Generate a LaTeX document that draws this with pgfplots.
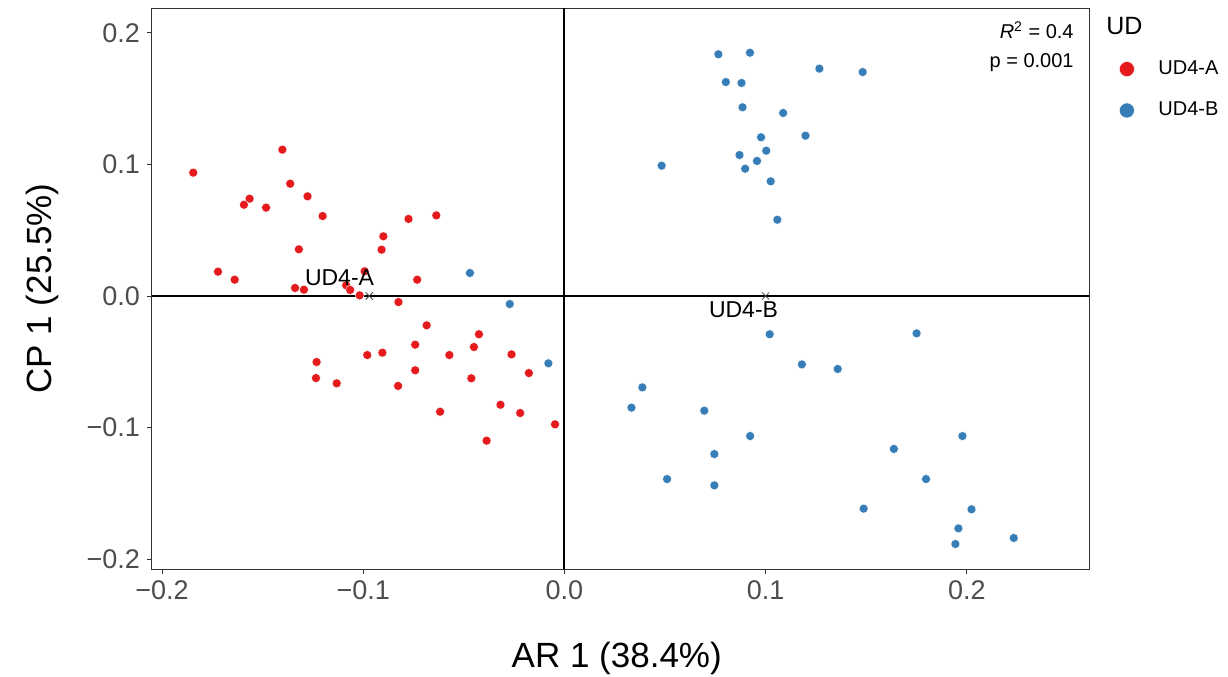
\documentclass[border=0pt]{standalone}
\usepackage{fontspec}
\setmainfont{Liberation Sans}
\usepackage{pgfplots}
\pgfplotsset{compat=1.18}
\definecolor{udred}{HTML}{E41A1C}
\definecolor{udblue}{HTML}{377EB8}
\definecolor{tickgray}{HTML}{4D4D4D}
\definecolor{framegray}{HTML}{333333}

\begin{document}
\begin{tikzpicture}
\path[use as bounding box] (-76pt,-53.5pt) rectangle (538pt,284.5pt);
\begin{axis}[
    at={(0,0)}, anchor=south west,
    scale only axis,
    width=468.5pt, height=280.5pt,
    xmin=-0.205, xmax=0.2607,
    ymin=-0.2076, ymax=0.219,
    clip mode=individual,
    axis line style={framegray, line width=0.5pt},
    tick pos=left,
    tick align=outside,
    major tick length=2.5pt,
    tick style={framegray, line width=0.5pt},
    xtick={-0.2,-0.1,0,0.1,0.2},
    xticklabels={−0.2,−0.1,0.0,0.1,0.2},
    ytick={-0.2,-0.1,0,0.1,0.2},
    yticklabels={−0.2,−0.1,0.0,0.1,0.2},
    ticklabel style={font=\fontsize{13.5}{15}\selectfont, text=tickgray},
    xlabel={AR 1 (38.4\%)},
    ylabel={CP 1 (25.5\%)},
    label style={font=\fontsize{17.5}{20}\selectfont},
    xlabel style={at={(axis description cs:0.496,-0.159)}, anchor=center},
    ylabel style={at={(axis description cs:-0.117,0.5)}, anchor=center},
    legend style={draw=none, fill=none, at={(axis description cs:1.0256,0.921)}, anchor=north west,
        font=\fontsize{10}{12}\selectfont, row sep=8.3pt, column sep=10pt},
    legend cell align=left,
    legend image post style={mark size=3.75pt},
]
% zero lines
\draw[black, line width=1pt] (axis cs:0,-0.2076) -- (axis cs:0,0.219);
\draw[black, line width=1pt] (axis cs:-0.205,0) -- (axis cs:0.2607,0);

% UD4-A
\addplot[only marks, mark=*, mark size=2.25pt, color=udred, mark options={draw=white, line width=0.2pt, fill=udred}] coordinates {
(-0.1845, 0.0938) (-0.1402, 0.1113) (-0.1363, 0.0854) (-0.1565, 0.0740)
(-0.1593, 0.0694) (-0.1483, 0.0672) (-0.1277, 0.0758) (-0.1202, 0.0608)
(-0.0775, 0.0586) (-0.0637, 0.0613) (-0.0900, 0.0454) (-0.0909, 0.0352)
(-0.1320, 0.0355) (-0.1722, 0.0185) (-0.1639, 0.0124) (-0.1339, 0.0061)
(-0.1295, 0.0048) (-0.0993, 0.0188) (-0.1085, 0.0081) (-0.1065, 0.0046)
(-0.1018, 0.0005) (-0.0732, 0.0124) (-0.0825, -0.0046) (-0.0685, -0.0223)
(-0.0425, -0.0291) (-0.0742, -0.0370) (-0.0450, -0.0388) (-0.1232, -0.0502)
(-0.0980, -0.0449) (-0.0905, -0.0431) (-0.0572, -0.0449) (-0.0263, -0.0444)
(-0.0742, -0.0565) (-0.0177, -0.0586) (-0.1235, -0.0624) (-0.1132, -0.0664)
(-0.0827, -0.0684) (-0.0463, -0.0626) (-0.0618, -0.0880) (-0.0318, -0.0827)
(-0.0220, -0.0890) (-0.0047, -0.0976) (-0.0387, -0.1100)
};
\addlegendentry{UD4-A}

% UD4-B
\addplot[only marks, mark=*, mark size=2.25pt, color=udblue, mark options={draw=white, line width=0.2pt, fill=udblue}] coordinates {
(0.0765, 0.1838) (0.0922, 0.1850) (0.1267, 0.1729) (0.1482, 0.1703)
(0.0802, 0.1627) (0.0880, 0.1620) (0.0885, 0.1435) (0.1087, 0.1392)
(0.0977, 0.1207) (0.1198, 0.1219) (0.1003, 0.1105) (0.0870, 0.1072)
(0.0957, 0.1027) (0.0483, 0.0991) (0.0898, 0.0968) (0.1025, 0.0872)
(0.1058, 0.0580)
(0.1020, -0.0291) (0.1180, -0.0520) (0.1358, -0.0555) (0.0387, -0.0695)
(0.0333, -0.0849) (0.0695, -0.0872) (0.0923, -0.1065) (0.0745, -0.1202)
(0.0510, -0.1392) (0.0745, -0.1440) (0.1637, -0.1163) (0.1487, -0.1617)
(0.1750, -0.0284) (0.1978, -0.1065) (0.1797, -0.1392) (0.2023, -0.1622)
(0.1958, -0.1767) (0.1943, -0.1886) (0.2233, -0.1840)
(-0.0470, 0.0175) (-0.0272, -0.0061) (-0.0080, -0.0512)
};
\addlegendentry{UD4-B}

% centroids
\addplot[only marks, mark=x, mark size=2.5pt, color=darkgray, forget plot] coordinates {(-0.097, 0) (0.100, 0)};
\node[font=\fontsize{11.5}{13}\selectfont, inner sep=0pt] at (axis cs:-0.1118,0.0137) {UD4-A};
\node[font=\fontsize{11.5}{13}\selectfont, inner sep=0pt] at (axis cs:0.089,-0.0106) {UD4-B};

% statistics
\node[font=\fontsize{10}{12}\selectfont, anchor=east, inner sep=0pt] at (axis description cs:0.984,0.961) {\textit{R}\textsuperscript{2} = 0.4};
\node[font=\fontsize{10}{12}\selectfont, anchor=east, inner sep=0pt] at (axis description cs:0.984,0.903) {p = 0.001};

% legend title
\node[font=\fontsize{12.5}{14}\selectfont, anchor=west, inner sep=0pt] at (axis description cs:1.018,0.968) {UD};
\end{axis}
\end{tikzpicture}
\end{document}
